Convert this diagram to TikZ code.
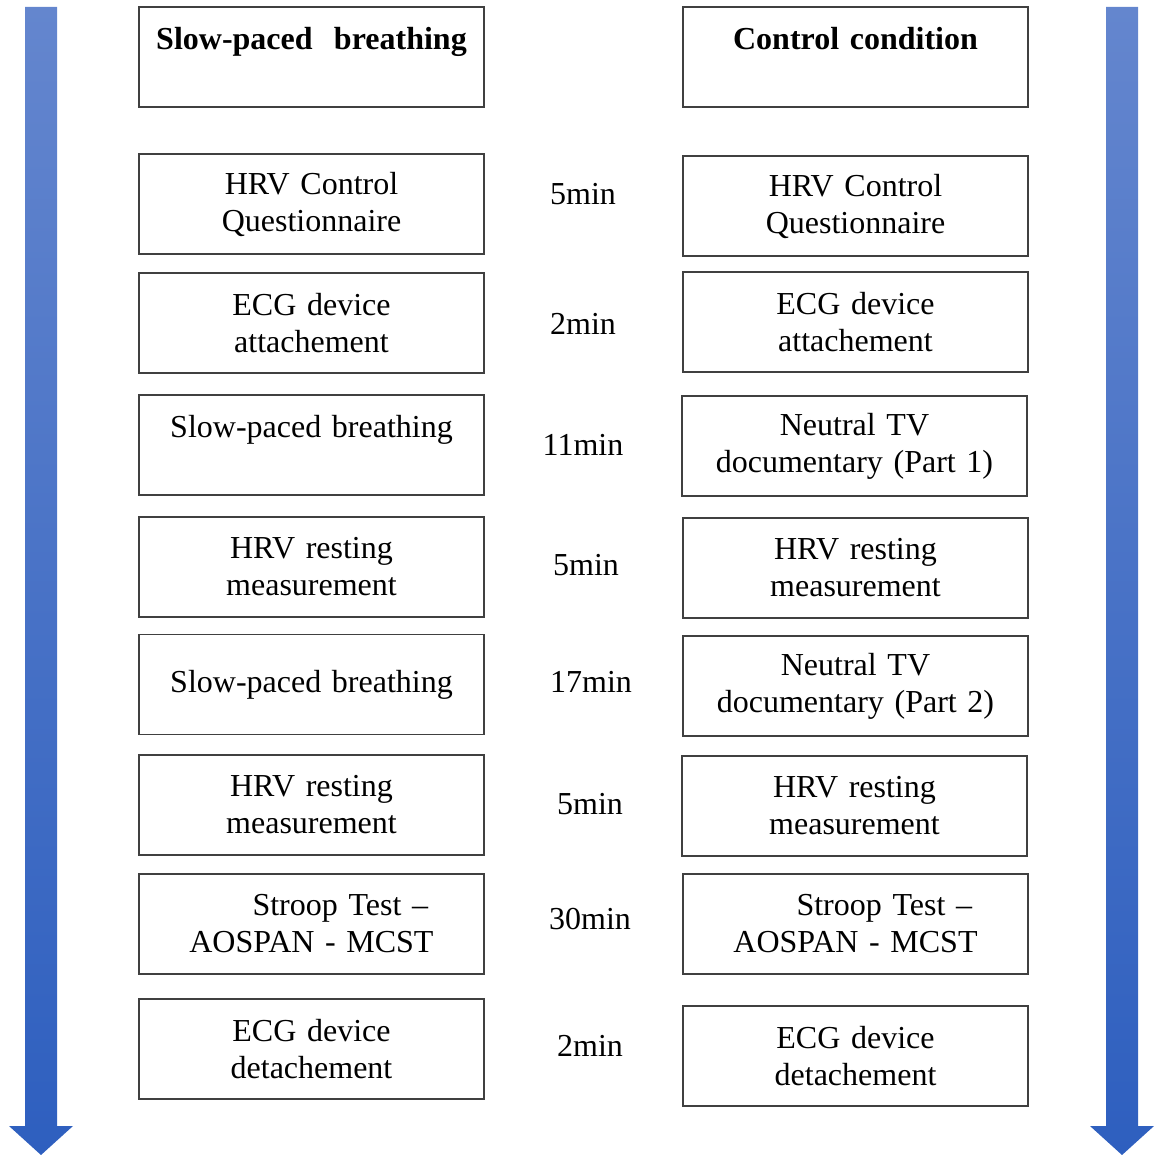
\documentclass[tikz,border=0pt]{standalone}
\usepackage{fontspec}
\setmainfont{Liberation Serif}
\usetikzlibrary{positioning}

\definecolor{arrowtop}{RGB}{100,134,206}
\definecolor{arrowbottom}{RGB}{46,95,191}

\begin{document}
\begin{tikzpicture}[
    x=0.5pt, y=-0.5pt,
    step box/.style={rectangle, draw=black!75, line width=0.6pt, minimum width=172.5pt,
        minimum height=50pt, text width=165pt, align=center, inner sep=0pt,
        font=\fontsize{16}{18.5}\selectfont, text=black},
    head box/.style={step box, font=\fontsize{16}{18.5}\selectfont\bfseries},
    duration/.style={inner sep=0pt, font=\fontsize{16}{18.5}\selectfont, text=black},
    time arrow/.style={draw=none, top color=arrowtop, bottom color=arrowbottom}
]
\useasboundingbox (0,0) rectangle (1153,1155);

% time arrows
\shade[time arrow] (25,7) -- (57,7) -- (57,1126) -- (73,1126) -- (41,1155)
    -- (9,1126) -- (25,1126) -- cycle;
\shade[time arrow] (1106,7) -- (1138,7) -- (1138,1126) -- (1154,1126) -- (1122,1155)
    -- (1090,1126) -- (1106,1126) -- cycle;

% slow-paced breathing group
\node [head box] (SlowHead) at (311.5,57) {Slow-paced~ breathing\\ \mbox{}};
\node [step box] (SlowQuest) at (311.5,204) {HRV Control\\ Questionnaire};
\node [step box] (SlowAttach) at (311.5,323) {ECG device\\ attachement};
\node [step box] (SlowBreathA) at (311.5,445) {Slow-paced breathing\\ \mbox{}};
\node [step box] (SlowRestA) at (311.5,567) {HRV resting\\ measurement};
\node [step box] (SlowBreathB) at (311.5,684.5) {Slow-paced breathing};
\node [step box] (SlowRestB) at (311.5,805) {HRV resting\\ measurement};
\node [step box] (SlowStroop) at (311.5,924) {\hspace*{1.8em}Stroop Test --\\ AOSPAN - MCST};
\node [step box] (SlowDetach) at (311.5,1049) {ECG device\\ detachement};

% control group
\node [head box] (CtrlHead) at (855.5,57) {Control condition\\ \mbox{}};
\node [step box] (CtrlQuest) at (855.5,206) {HRV Control\\ Questionnaire};
\node [step box] (CtrlAttach) at (855.5,322) {ECG device\\ attachement};
\node [step box] (CtrlDocA) at (854.5,446) {Neutral TV\\ documentary (Part 1)};
\node [step box] (CtrlRestA) at (855.5,568) {HRV resting\\ measurement};
\node [step box] (CtrlDocB) at (855.5,686) {Neutral TV\\ documentary (Part 2)};
\node [step box] (CtrlRestB) at (854.5,806) {HRV resting\\ measurement};
\node [step box] (CtrlStroop) at (855.5,924) {\hspace*{1.8em}Stroop Test --\\ AOSPAN - MCST};
\node [step box] (CtrlDetach) at (855.5,1056) {ECG device\\ detachement};

% durations
\node [duration] (TimeQuest) at (583,194) {5min};
\node [duration] (TimeAttach) at (583,324) {2min};
\node [duration] (TimeFirst) at (583,445) {11min};
\node [duration] (TimeRestA) at (586,565) {5min};
\node [duration] (TimeSecond) at (591,682) {17min};
\node [duration] (TimeRestB) at (590,804) {5min};
\node [duration] (TimeStroop) at (590,919) {30min};
\node [duration] (TimeDetach) at (590,1046) {2min};

\end{tikzpicture}
\end{document}
